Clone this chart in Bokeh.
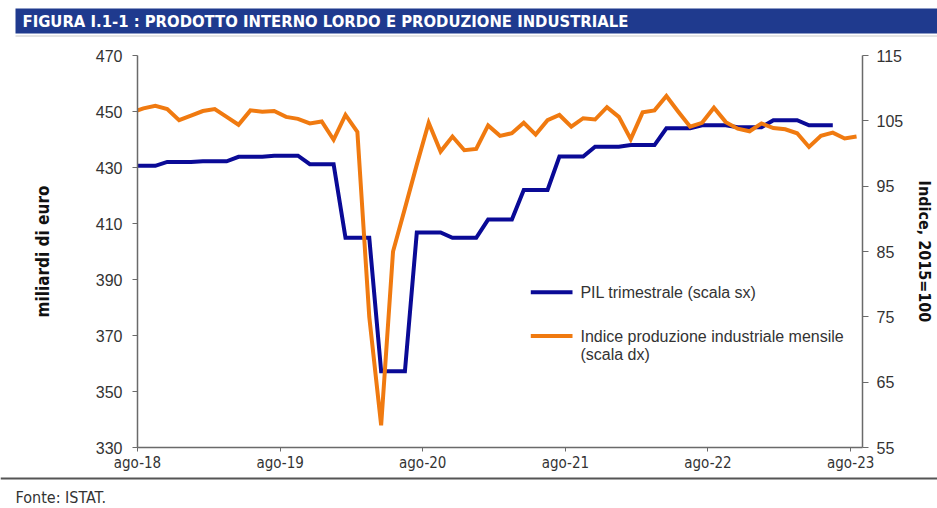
from bokeh.plotting import figure
from bokeh.models import Range1d, LinearAxis, FixedTicker
from bokeh.layouts import column
from bokeh.embed import file_html
from bokeh.resources import INLINE
from bokeh.core.properties import value

# ---------------- data ----------------
# Quarterly GDP (billions of euro), Q3-2018 ... Q2-2023
gdp_quarters = ["T3-18", "T4-18", "T1-19", "T2-19", "T3-19", "T4-19",
                "T1-20", "T2-20", "T3-20", "T4-20", "T1-21", "T2-21",
                "T3-21", "T4-21", "T1-22", "T2-22", "T3-22", "T4-22",
                "T1-23", "T2-23"]
gdp_values = [430.6, 432.0, 432.2, 433.8, 434.2, 431.2,
              404.9, 357.2, 406.8, 404.9, 411.4, 422.0,
              433.9, 437.4, 438.0, 444.0, 445.1, 444.4,
              446.9, 445.1]

# Monthly industrial production index (2015=100), Jul-2018 ... Aug-2023
ipi_values = [106.3, 106.9, 107.3, 106.8, 105.1, 105.8,               # 2018 lug-dic
              106.5, 106.8, 105.6, 104.4, 106.6, 106.4,               # 2019
              106.5, 105.6, 105.3, 104.6, 104.9, 102.1,
              105.9, 103.3, 75.0, 58.4, 85.0, 91.6,                   # 2020
              98.3, 104.7, 100.3, 102.6, 100.5, 100.7,
              104.3, 102.7, 103.1, 104.7, 102.9, 105.1,               # 2021
              105.9, 104.1, 105.4, 105.2, 107.1, 105.6,
              102.2, 106.3, 106.6, 108.8, 106.4, 104.1,               # 2022
              104.7, 107.0, 104.8, 103.8, 103.4, 104.6,
              103.9, 103.7, 103.1, 101.0, 102.7, 103.2,               # 2023
              102.3, 102.6]
month_abbr = ["gen", "feb", "mar", "apr", "mag", "giu",
              "lug", "ago", "set", "ott", "nov", "dic"]
ipi_months = []
for i in range(len(ipi_values)):
    m = (6 + i) % 12
    yy = 18 + (6 + i) // 12
    ipi_months.append(f"{month_abbr[m]}-{yy}")

x_tick_labels = ["ago-18", "ago-19", "ago-20", "ago-21", "ago-22", "ago-23"]
left_ticks = [330, 350, 370, 390, 410, 430, 450, 470]
right_ticks = [55, 65, 75, 85, 95, 105, 115]

# ---------------- styling / layout ----------------
BLUE = "#0A0A96"
ORANGE = "#F07A10"
BAR = "#1F3A8E"
TXT = "#333333"
AXC = "#6a6a6a"
FONT = "Liberation Sans"
NARROW = "Liberation Sans Narrow, DejaVu Sans Condensed"
W = 937

# month index: 0 = start of ago-18 (tick position); data drawn at mid-month
# ipi starts at lug-18 (index -1)
ipi_x = [(i - 1) + 0.5 for i in range(len(ipi_values))]
gdp_x, gdp_y = [], []
for q, v in enumerate(gdp_values):
    for k in range(3):
        gdp_x.append(q * 3 + k - 1 + 0.5)
        gdp_y.append(v)

X0, X1 = 0, 61
YL0, YL1 = 330, 470
YR0, YR1 = 55, 115

# ---- title bar figure (page y 0..40) ----
TH = 40
tf = figure(width=W, height=TH, x_range=Range1d(0, W), y_range=Range1d(0, TH),
            toolbar_location=None, output_backend="svg",
            x_axis_location=None, y_axis_location=None, min_border=0, frame_align=False)
tf.grid.visible = False
tf.outline_line_color = None
tf.quad(left=[15], right=[W], bottom=[TH - 33], top=[TH - 8], fill_color=BAR, line_color=None)
tf.line([15, W], [TH - 35.5, TH - 35.5], line_color="#c8c8c8", line_width=1)
tf.text(x=[22], y=[TH - 20.5], text=["FIGURA I.1-1 : PRODOTTO INTERNO LORDO E PRODUZIONE INDUSTRIALE"],
        text_font=value(NARROW), text_font_style="bold", text_font_size="16.5px",
        text_color="white", text_baseline="middle", text_align="left")

# ---- main figure (page y 40..474) ----
PAGE_TOP = TH
FT, FB, FL, FR = 15, 25, 137, 70
H = 434
p = figure(width=W, height=H, x_range=Range1d(X0, X1), y_range=Range1d(YL0, YL1),
           toolbar_location=None, output_backend="svg", frame_align=False,
           min_border_left=FL, min_border_right=FR, min_border_top=FT, min_border_bottom=FB)
p.extra_y_ranges = {"right": Range1d(YR0, YR1)}
p.grid.visible = False
p.outline_line_color = None

p.line(gdp_x, gdp_y, line_color=BLUE, line_width=4, line_join="miter")
p.line(ipi_x, ipi_values, line_color=ORANGE, line_width=4, y_range_name="right", line_join="miter")

# x axis
xa = p.xaxis[0]
xa.ticker = FixedTicker(ticks=[0, 12, 24, 36, 48, 60])
xa.major_label_overrides = {t: lab for t, lab in zip([0, 12, 24, 36, 48, 60], x_tick_labels)}
xa.minor_tick_line_color = None
xa.major_tick_out = 4
xa.major_tick_in = 0
xa.major_label_standoff = 2
xa.axis_line_color = AXC
xa.axis_line_width = 1.5
xa.major_tick_line_color = AXC
xa.major_label_text_font = NARROW
xa.major_label_text_font_size = "15px"
xa.major_label_text_color = TXT

# left axis
ya = p.yaxis[0]
ya.ticker = FixedTicker(ticks=left_ticks)
ya.minor_tick_line_color = None
ya.major_tick_out = 5
ya.major_tick_in = 0
ya.major_label_standoff = 10
ya.axis_line_color = AXC
ya.axis_line_width = 1.5
ya.major_tick_line_color = AXC
ya.major_label_text_font = FONT
ya.major_label_text_font_size = "16px"
ya.major_label_text_color = TXT
ya.axis_label = "miliardi di euro"
ya.axis_label_text_font = NARROW
ya.axis_label_text_font_style = "bold"
ya.axis_label_text_font_size = "17px"
ya.axis_label_text_color = "#111111"
ya.axis_label_standoff = 40

# right axis
ra = LinearAxis(y_range_name="right", ticker=FixedTicker(ticks=right_ticks))
ra.minor_tick_line_color = None
ra.major_tick_out = 6
ra.major_tick_in = 0
ra.major_label_standoff = 8
ra.axis_line_color = AXC
ra.axis_line_width = 1.5
ra.major_tick_line_color = AXC
ra.major_label_text_font = FONT
ra.major_label_text_font_size = "16px"
ra.major_label_text_color = TXT
ra.axis_label = "Indice, 2015=100"
ra.axis_label_text_font = NARROW
ra.axis_label_text_font_style = "bold"
ra.axis_label_text_font_size = "16px"
ra.axis_label_text_color = "#111111"
ra.axis_label_standoff = 9
p.add_layout(ra, "right")

# legend (drawn manually, positions in page pixels -> data coords)
FRAME_L, FRAME_T = FL, PAGE_TOP + FT
FRAME_W = W - FL - FR
FRAME_H = H - FT - FB


def px_x(px):
    return X0 + (px - FRAME_L) / FRAME_W * (X1 - X0)


def px_y(py):
    return YL1 - (py - FRAME_T) / FRAME_H * (YL1 - YL0)


p.line([px_x(533), px_x(575)], [px_y(293), px_y(293)], line_color=BLUE, line_width=4)
p.line([px_x(533), px_x(575)], [px_y(337), px_y(337)], line_color=ORANGE, line_width=4)
p.text(x=[px_x(583)] * 3, y=[px_y(293), px_y(337), px_y(356)],
       text=["PIL trimestrale (scala sx)", "Indice produzione industriale mensile", "(scala dx)"],
       text_font=value(FONT), text_font_size="16px", text_color=TXT,
       text_baseline="middle", text_align="left")

# ---- footer figure (page y 474..508) ----
FH = 34
ff = figure(width=W, height=FH, x_range=Range1d(0, W), y_range=Range1d(0, FH),
            toolbar_location=None, output_backend="svg",
            x_axis_location=None, y_axis_location=None, min_border=0, frame_align=False)
ff.grid.visible = False
ff.outline_line_color = None
ff.line([0, W], [FH - 4, FH - 4], line_color="#555555", line_width=2)
ff.text(x=[15], y=[FH - 23], text=["Fonte: ISTAT."], text_font=value(NARROW),
        text_font_size="16px", text_color=TXT, text_baseline="middle", text_align="left")

layout = column(tf, p, ff, spacing=0)
open("out.html", "w").write(file_html(layout, INLINE))
